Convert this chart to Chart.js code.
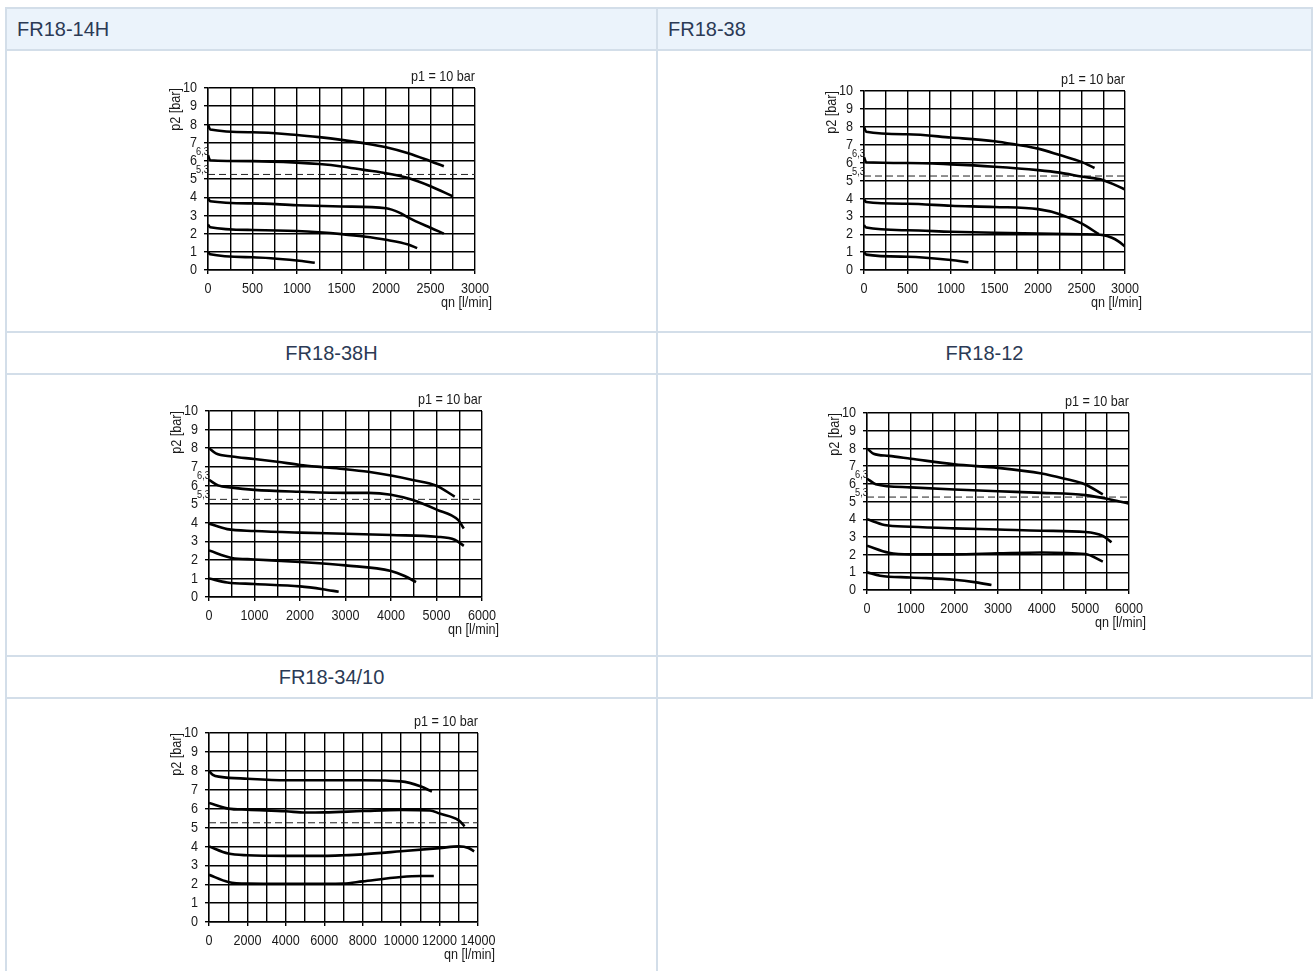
<!DOCTYPE html>
<html>
<head>
<meta charset="utf-8">
<title>FR18 Durchflussdiagramme</title>
<script src="https://cdn.jsdelivr.net/npm/chart.js@4.4.0/dist/chart.umd.min.js"></script>
<style>
html, body { margin: 0; padding: 0; background: #fff; }
body { position: relative; width: 1313px; height: 971px; overflow: hidden; font-family: 'Liberation Sans', Arial, sans-serif; }
.cell { position: absolute; box-sizing: border-box; border: 2px solid #d3dee9; color: #2b3a55; font-size: 20px; }
.hd { display: flex; align-items: center; }
.hd.blue { background: #ebf3fb; padding-left: 10px; }
.hd.center { justify-content: center; }
.box { position: absolute; }
</style>
</head>
<body>

<div class="cell hd blue" style="left:5px;top:7px;width:653px;height:44px">FR18-14H</div>
<div class="cell hd blue" style="left:656px;top:7px;width:657px;height:44px">FR18-38</div>
<div class="cell" style="left:5px;top:49px;width:653px;height:284px"></div>
<div class="cell" style="left:656px;top:49px;width:657px;height:284px"></div>
<div class="cell hd center" style="left:5px;top:331px;width:653px;height:44px">FR18-38H</div>
<div class="cell hd center" style="left:656px;top:331px;width:657px;height:44px">FR18-12</div>
<div class="cell" style="left:5px;top:373px;width:653px;height:284px"></div>
<div class="cell" style="left:656px;top:373px;width:657px;height:284px"></div>
<div class="cell hd center" style="left:5px;top:655px;width:653px;height:44px">FR18-34/10</div>
<div class="cell hd center" style="left:656px;top:655px;width:657px;height:44px"></div>
<div class="cell" style="left:5px;top:697px;width:653px;height:320px"></div>

<div class="box" id="b1"><canvas id="c1"></canvas></div>
<div class="box" id="b2"><canvas id="c2"></canvas></div>
<div class="box" id="b3"><canvas id="c3"></canvas></div>
<div class="box" id="b4"><canvas id="c4"></canvas></div>
<div class="box" id="b5"><canvas id="c5"></canvas></div>

<script>
const yTicks = [0, 1, 2, 3, 4, 5, 6, 7, 8, 9, 10];
const refLine = 5.25; // gestrichelte Linie (5,3)

// FR18-14H
const s14h_1 = [[0,8.0],[25,7.72],[500,7.57],[1000,7.42],[1250,7.3],[1500,7.15],[1750,6.97],[2000,6.75],[2250,6.42],[2500,5.98],[2650,5.7]];
const s14h_2 = [[0,6.3],[25,6.03],[500,5.98],[1000,5.9],[1250,5.82],[1500,5.69],[1750,5.5],[2000,5.32],[2250,5.05],[2500,4.6],[2750,4.05]];
const s14h_3 = [[0,3.95],[25,3.78],[500,3.66],[1000,3.56],[1500,3.49],[2000,3.39],[2150,3.15],[2250,2.88],[2500,2.32],[2650,2.0]];
const s14h_4 = [[0,2.5],[25,2.35],[500,2.2],[1000,2.14],[1250,2.07],[1500,1.97],[1750,1.84],[2000,1.66],[2250,1.4],[2350,1.2]];
const s14h_5 = [[0,1.0],[25,0.86],[500,0.7],[1000,0.52],[1200,0.4]];

// FR18-38
const s38_1 = [[0,8.0],[25,7.72],[500,7.58],[1000,7.4],[1500,7.19],[1750,7.0],[2000,6.78],[2250,6.42],[2500,6.04],[2650,5.7]];
const s38_2 = [[0,6.3],[25,6.02],[500,5.98],[1000,5.9],[1500,5.77],[2000,5.58],[2250,5.44],[2500,5.22],[2750,5.02],[3000,4.5]];
const s38_3 = [[0,3.95],[25,3.8],[500,3.7],[1000,3.59],[1500,3.52],[2000,3.4],[2250,3.12],[2500,2.6],[2700,2.0]];
const s38_4 = [[0,2.5],[25,2.37],[500,2.22],[1000,2.14],[1500,2.08],[2000,2.04],[2500,2.0],[2750,1.95],[2850,1.8],[2925,1.6],[3000,1.32]];
const s38_5 = [[0,1.0],[25,0.86],[500,0.74],[1000,0.56],[1200,0.43]];

// FR18-38H
const s38h_1 = [[0,8.0],[150,7.72],[500,7.55],[1000,7.42],[1500,7.27],[2000,7.1],[2500,6.98],[3000,6.87],[3500,6.73],[4000,6.53],[4500,6.28],[5000,5.98],[5400,5.4]];
const s38h_2 = [[0,6.3],[200,6.0],[500,5.88],[1000,5.76],[2000,5.66],[3000,5.6],[3500,5.6],[4000,5.5],[4500,5.2],[5000,4.7],[5480,4.13],[5600,3.68]];
const s38h_3 = [[0,3.95],[400,3.65],[1000,3.55],[2000,3.46],[3000,3.4],[4000,3.33],[5000,3.24],[5400,3.08],[5600,2.75]];
const s38h_4 = [[0,2.5],[500,2.1],[1000,2.02],[2000,1.88],[3000,1.7],[4000,1.4],[4300,1.13],[4550,0.8]];
const s38h_5 = [[0,1.0],[400,0.78],[1000,0.7],[2000,0.57],[2500,0.42],[2850,0.28]];

// FR18-12
const s12_1 = [[0,8.0],[150,7.7],[500,7.58],[1000,7.42],[2000,7.1],[3000,6.9],[4000,6.58],[4500,6.3],[5000,5.96],[5400,5.4]];
const s12_2 = [[0,6.3],[200,5.98],[1000,5.8],[2000,5.68],[3000,5.58],[4000,5.49],[5000,5.36],[5600,5.1],[6000,4.88]];
const s12_3 = [[0,4.0],[400,3.67],[1000,3.57],[2000,3.48],[3000,3.42],[4000,3.35],[5000,3.28],[5400,3.06],[5600,2.7]];
const s12_4 = [[0,2.5],[500,2.1],[1000,2.01],[2000,2.01],[3000,2.07],[4000,2.12],[5000,2.03],[5400,1.6]];
const s12_5 = [[0,1.0],[300,0.81],[1000,0.71],[2000,0.58],[2500,0.43],[2850,0.28]];

// FR18-34/10
const s3410_1 = [[0,8.0],[200,7.78],[600,7.68],[2000,7.58],[4000,7.5],[6000,7.5],[8000,7.5],[10000,7.44],[11000,7.18],[11600,6.9]];
const s3410_2 = [[0,6.3],[1000,6.0],[2000,5.94],[4000,5.86],[5000,5.79],[6000,5.8],[8000,5.87],[10000,5.93],[11500,5.9],[12000,5.74],[13000,5.38],[13300,5.06]];
const s3410_3 = [[0,4.0],[1000,3.62],[2000,3.53],[4000,3.5],[6000,3.5],[7000,3.53],[8000,3.58],[10000,3.74],[12000,3.91],[13000,4.0],[13500,3.92],[13800,3.74]];
const s3410_4 = [[0,2.5],[1000,2.12],[2000,2.03],[4000,2.02],[6000,2.02],[7000,2.03],[8000,2.15],[10000,2.38],[11000,2.43],[11700,2.43]];

// Achsen: max, Rasterschritt, Beschriftungsschritt
const xMax   = [3000, 3000, 6000, 6000, 14000];
const xGrid  = [250, 250, 500, 500, 1000];
const xLabel = [500, 500, 1000, 1000, 2000];
const smallLabels = [true, true, true, true, false];

const allSeries = [
  [s14h_1, s14h_2, s14h_3, s14h_4, s14h_5],
  [s38_1, s38_2, s38_3, s38_4, s38_5],
  [s38h_1, s38h_2, s38h_3, s38h_4, s38h_5],
  [s12_1, s12_2, s12_3, s12_4, s12_5],
  [s3410_1, s3410_2, s3410_3, s3410_4]
];

// Lage der Diagrammflaeche auf der Seite: left, top, width, height
const plots = [
  [208, 88, 267, 182],
  [864, 91, 261, 179],
  [209, 411, 273, 186],
  [867, 413, 262, 177],
  [209, 733, 269, 189]
];

const FONT = "'Liberation Sans', Arial, sans-serif";
const INK = '#000';
const TEXT = '#1a1a1a';
const NARROW = 0.84; // schmale Schrift nachbilden
const PAD_L = 50, PAD_T = 30, PAD_R = 25, PAD_B = 50;

Chart.defaults.font.family = FONT;
Chart.defaults.font.size = 15;
Chart.defaults.color = INK;

function narrowText(ctx, text, x, y, align) {
  ctx.save();
  ctx.translate(x, y);
  ctx.scale(NARROW, 1);
  ctx.textAlign = align;
  ctx.fillText(text, 0, 0);
  ctx.restore();
}

const decor = {
  id: 'decor',
  afterDraw(chart, args, opts) {
    const ctx = chart.ctx, a = chart.chartArea;
    const x = chart.scales.x, y = chart.scales.y;
    ctx.save();
    ctx.fillStyle = TEXT;
    ctx.font = '15px ' + FONT;

    // Achsenbeschriftung
    ctx.textBaseline = 'middle';
    yTicks.forEach(v => narrowText(ctx, String(v), a.left - 11, y.getPixelForValue(v), 'right'));
    ctx.textBaseline = 'alphabetic';
    x.ticks.forEach(t => {
      if (t.value % opts.step === 0) narrowText(ctx, String(t.value), x.getPixelForValue(t.value), a.bottom + 23, 'center');
    });

    narrowText(ctx, 'p1 = 10 bar', a.right, a.top - 7, 'right');
    narrowText(ctx, 'qn [l/min]', a.right + 17, a.bottom + 37, 'right');

    ctx.save();
    ctx.translate(a.left - 28, a.top);
    ctx.rotate(-Math.PI / 2);
    narrowText(ctx, 'p2 [bar]', 0, 0, 'right');
    ctx.restore();

    if (opts.small) {
      ctx.font = '11px ' + FONT;
      narrowText(ctx, '6,3', a.left - 12, y.getPixelForValue(6) - 6, 'left');
      narrowText(ctx, '5,3', a.left - 12, y.getPixelForValue(5) - 6, 'left');
    }
    ctx.restore();
  }
};

function makeChart(i) {
  const p = plots[i];
  const box = document.getElementById('b' + (i + 1));
  const w = p[2] + PAD_L + PAD_R, h = p[3] + PAD_T + PAD_B;
  box.style.left = (p[0] - PAD_L) + 'px';
  box.style.top = (p[1] - PAD_T) + 'px';
  box.style.width = w + 'px';
  box.style.height = h + 'px';

  const datasets = allSeries[i].map(s => ({
    data: s.map(pt => ({ x: pt[0], y: pt[1] })),
    borderColor: INK,
    borderWidth: 2.6,
    pointRadius: 0,
    fill: false,
    cubicInterpolationMode: 'monotone'
  }));
  datasets.push({
    data: [{ x: 0, y: refLine }, { x: xMax[i], y: refLine }],
    borderColor: '#222',
    borderWidth: 1,
    borderDash: [7, 4],
    pointRadius: 0,
    fill: false
  });

  new Chart(document.getElementById('c' + (i + 1)), {
    type: 'line',
    data: { datasets },
    options: {
      responsive: true,
      maintainAspectRatio: false,
      animation: false,
      events: [],
      layout: { padding: { left: 0, top: PAD_T, right: PAD_R, bottom: 0 } },
      plugins: {
        legend: { display: false },
        tooltip: { enabled: false },
        decor: { small: smallLabels[i], step: xLabel[i] }
      },
      scales: {
        x: {
          type: 'linear',
          min: 0,
          max: xMax[i],
          afterFit: s => { s.height = PAD_B; },
          grid: {
            color: INK,
            lineWidth: 1.4,
            tickLength: 4,
            tickColor: c => (c.tick && c.tick.value % xLabel[i] === 0) ? INK : 'rgba(0,0,0,0)'
          },
          border: { color: INK, width: 1.4 },
          ticks: { stepSize: xGrid[i], autoSkip: false, maxRotation: 0, display: false }
        },
        y: {
          min: yTicks[0],
          max: yTicks[yTicks.length - 1],
          afterFit: s => { s.width = PAD_L; },
          grid: { color: INK, lineWidth: 1.4, tickLength: 4 },
          border: { color: INK, width: 1.4 },
          ticks: { stepSize: 1, autoSkip: false, display: false }
        }
      }
    },
    plugins: [decor]
  });
}

for (let i = 0; i < plots.length; i++) makeChart(i);
</script>
</body>
</html>
